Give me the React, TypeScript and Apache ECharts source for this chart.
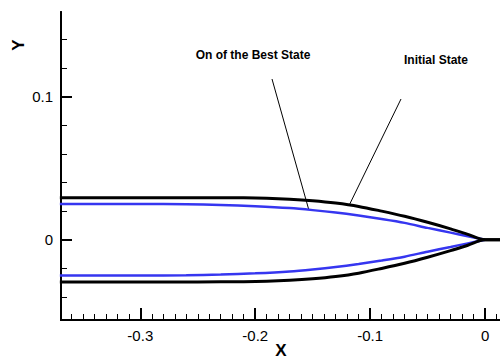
import React, { useEffect, useRef } from "react";
import * as echarts from "echarts";

// Profile coordinates (x, y) of the upper half; the lower half is its mirror.
const initialUpperX = [-0.37, -0.3, -0.25, -0.21, -0.19, -0.17, -0.15, -0.13, -0.11, -0.09, -0.07, -0.05, -0.03, -0.015, 0, 0.013];
const initialUpperY = [0.0294, 0.0294, 0.0294, 0.0293, 0.029, 0.0283, 0.0272, 0.0256, 0.0233, 0.02, 0.0164, 0.0122, 0.0076, 0.0038, 0, 0];

const bestUpperX = [-0.37, -0.3, -0.26, -0.23, -0.2, -0.17, -0.15, -0.13, -0.11, -0.09, -0.07, -0.05, -0.03, -0.015, 0];
const bestUpperY = [0.025, 0.025, 0.0248, 0.0243, 0.0234, 0.0221, 0.0207, 0.019, 0.0169, 0.0145, 0.0118, 0.0083, 0.005, 0.0025, 0];

const xMajorTicks = [-0.3, -0.2, -0.1, 0];
const xMinorTicks = [-0.36, -0.35, -0.34, -0.33, -0.32, -0.31, -0.29, -0.28, -0.27, -0.26, -0.25, -0.24, -0.23, -0.22, -0.21, -0.19, -0.18, -0.17, -0.16, -0.15, -0.14, -0.13, -0.12, -0.11, -0.09, -0.08, -0.07, -0.06, -0.05, -0.04, -0.03, -0.02, -0.01, 0.01];
const yMajorTicks = [0, 0.1];
const yMinorTicks = [-0.04, -0.02, 0.02, 0.04, 0.06, 0.08, 0.12, 0.14];

// Callout labels: text, where the text sits, and the curve point it refers to.
const calloutTexts = ["On of the Best State", "Initial State"];
const calloutTextPos = [[253, 55], [436, 60]];
const calloutLineStart = [[272, 79], [401, 99]];
const calloutAnchors = [[-0.1534, 0.021], [-0.1177, 0.025]];

const X_MIN = -0.369;
const X_MAX = 0.013;
const Y_MIN = -0.056;
const Y_MAX = 0.159;

const FONT = "'Liberation Sans', Arial, sans-serif";

const zip = (xs: number[], ys: number[], sign = 1) => xs.map((x, i) => [x, sign * ys[i]]);

export default function App() {
  const ref = useRef<HTMLDivElement>(null);

  useEffect(() => {
    if (!ref.current) return;
    const chart = echarts.init(ref.current, null, { renderer: "svg" });

    const axisBase = {
      type: "value" as const,
      splitLine: { show: false },
      axisLine: { show: true, onZero: false, lineStyle: { color: "#000", width: 2 } },
    };

    const lineSeries = (data: number[][], color: string, width: number) => ({
      type: "line" as const,
      data,
      xAxisIndex: 0,
      yAxisIndex: 0,
      showSymbol: false,
      symbol: "none",
      smooth: 0.3,
      lineStyle: { color, width },
      silent: true,
    });

    chart.setOption({
      animation: false,
      grid: { left: 61, right: 0, top: 12, bottom: 40, containLabel: false },
      xAxis: [
        {
          ...axisBase,
          min: X_MIN,
          max: X_MAX,
          axisTick: { show: true, inside: true, length: 12, customValues: xMajorTicks, lineStyle: { color: "#000", width: 2 } },
          axisLabel: {
            show: true,
            customValues: xMajorTicks,
            margin: 8,
            color: "#000",
            fontSize: 15,
            fontFamily: FONT,
            formatter: (v: number) => String(Math.round(v * 10) / 10),
          },
        },
        {
          ...axisBase,
          min: X_MIN,
          max: X_MAX,
          position: "bottom",
          axisTick: { show: true, inside: true, length: 6, customValues: xMinorTicks, lineStyle: { color: "#000", width: 1 } },
          axisLabel: { show: false },
        },
      ],
      yAxis: [
        {
          ...axisBase,
          min: Y_MIN,
          max: Y_MAX,
          axisTick: { show: true, inside: true, length: 11, customValues: yMajorTicks, lineStyle: { color: "#000", width: 2 } },
          axisLabel: {
            show: true,
            customValues: yMajorTicks,
            margin: 8,
            color: "#000",
            fontSize: 15,
            fontFamily: FONT,
            formatter: (v: number) => String(Math.round(v * 10) / 10),
          },
        },
        {
          ...axisBase,
          min: Y_MIN,
          max: Y_MAX,
          position: "left",
          axisTick: { show: true, inside: true, length: 6, customValues: yMinorTicks, lineStyle: { color: "#000", width: 1 } },
          axisLabel: { show: false },
        },
      ],
      series: [
        lineSeries(zip(bestUpperX, bestUpperY), "#3636f0", 2.5),
        lineSeries(zip(bestUpperX, bestUpperY, -1), "#3636f0", 2.5),
        lineSeries(zip(initialUpperX, initialUpperY), "#000", 3),
        lineSeries(zip(initialUpperX, initialUpperY, -1), "#000", 3),
      ],
    });

    // Callout leader lines end on the curves, so their tips come from the axes.
    const callouts: any[] = [];
    calloutTexts.forEach((text, i) => {
      const tip = chart.convertToPixel({ gridIndex: 0 }, calloutAnchors[i]) as number[];
      callouts.push({
        type: "line",
        shape: { x1: calloutLineStart[i][0], y1: calloutLineStart[i][1], x2: tip[0], y2: tip[1] },
        style: { stroke: "#000", lineWidth: 1 },
        silent: true,
      });
      callouts.push({
        type: "text",
        x: calloutTextPos[i][0],
        y: calloutTextPos[i][1],
        style: {
          text,
          fill: "#000",
          font: `bold 12px ${FONT}`,
          textAlign: "center",
          textVerticalAlign: "middle",
        },
        silent: true,
      });
    });

    chart.setOption({
      graphic: [
        ...callouts,
        {
          type: "text",
          x: 281,
          y: 350,
          style: { text: "X", fill: "#000", font: `bold 17px ${FONT}`, textAlign: "center", textVerticalAlign: "middle" },
        },
        {
          type: "text",
          x: 18,
          y: 45,
          rotation: Math.PI / 2,
          style: { text: "Y", fill: "#000", font: `bold 17px ${FONT}`, textAlign: "center", textVerticalAlign: "middle" },
        },
      ],
    });

    return () => chart.dispose();
  }, []);

  return (
    <div
      ref={ref}
      style={{ position: "fixed", left: 0, top: 0, width: 500, height: 360, background: "#fff" }}
    />
  );
}
